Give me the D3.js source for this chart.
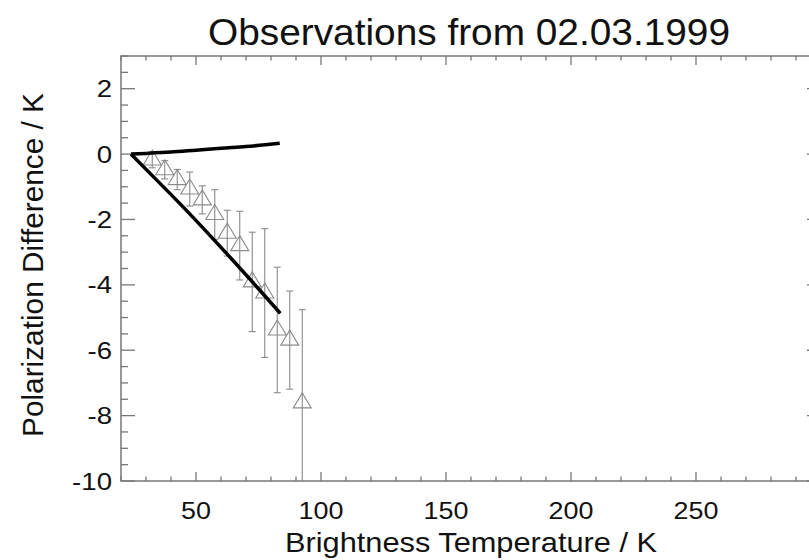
<!DOCTYPE html>
<html>
<head>
<meta charset="utf-8">
<title>Observations from 02.03.1999</title>
<script src="https://d3js.org/d3.v7.min.js"></script>
<style>
body { margin: 0; background: #fff; }
svg { display: block; font-family: "Liberation Sans", Arial, Helvetica, sans-serif; }
</style>
</head>
<body>

<script>

// observed brightness temperature (K), polarization difference (K) and error
const tbObs  = [32.5, 37.5, 42.5, 47.5, 52.5, 57.5, 62.5, 67.5, 72.5, 77.5, 82.5, 87.5, 92.5];
const pdObs  = [-0.18, -0.48, -0.78, -1.07, -1.40, -1.85, -2.42, -2.80, -3.91, -4.25, -5.38, -5.69, -7.61];
const pdErr  = [0.24, 0.28, 0.31, 0.52, 0.43, 0.76, 0.70, 1.05, 1.52, 1.97, 1.92, 1.50, 2.85];

// model curves
const modelUpperTb = [24, 30, 40, 50, 60, 70, 83.5];
const modelUpperPd = [0, 0.02, 0.06, 0.12, 0.18, 0.23, 0.33];
const modelLowerTb = [24, 35, 45, 55, 65, 75, 83.7];
const modelLowerPd = [0, -0.85, -1.63, -2.44, -3.27, -4.12, -4.87];

const xMajor = [50, 100, 150, 200, 250, 300];
const xLabels = [50, 100, 150, 200, 250];
const yMajor = [-10, -8, -6, -4, -2, 0, 2];

const W = 809, H = 560;
const plotL = 121, plotR = 821, plotT = 56, plotB = 481;

let svg = d3.select("body").append("svg").attr("width", W).attr("height", H);

let x = d3.scaleLinear().domain([20, 300]).range([plotL, plotR]);
let y = d3.scaleLinear().domain([-10, 3]).range([plotB, plotT]);

let xMinor = d3.range(20, 301, 10).filter(v => v % 50 != 0);
let yMinor = d3.range(-10, 3.01, 0.5).filter(v => v % 2 != 0);

const axisColor = "#777";
const xTickLen = 9, yTickLen = 14;

// frame
svg.append("rect")
  .attr("x", plotL).attr("y", plotT)
  .attr("width", plotR - plotL).attr("height", plotB - plotT)
  .attr("fill", "none").attr("stroke", axisColor).attr("stroke-width", 1.5);

// x ticks (bottom and top, pointing inward)
let xt = svg.append("g").attr("stroke", axisColor).attr("stroke-width", 1.3);
xMajor.concat(xMinor).forEach(v => {
  let len = xMajor.includes(v) ? xTickLen : xTickLen / 2;
  xt.append("line").attr("x1", x(v)).attr("x2", x(v)).attr("y1", plotB).attr("y2", plotB - len);
  xt.append("line").attr("x1", x(v)).attr("x2", x(v)).attr("y1", plotT).attr("y2", plotT + len);
});

// y ticks (left and right)
let yt = svg.append("g").attr("stroke", axisColor).attr("stroke-width", 1.3);
yMajor.concat(yMinor).forEach(v => {
  let len = yMajor.includes(v) ? yTickLen : yTickLen / 2;
  yt.append("line").attr("y1", y(v)).attr("y2", y(v)).attr("x1", plotL).attr("x2", plotL + len);
  yt.append("line").attr("y1", y(v)).attr("y2", y(v)).attr("x1", plotR).attr("x2", plotR - len);
});

// tick labels
svg.append("g").selectAll("text").data(xLabels).join("text")
  .attr("transform", d => "translate(" + x(d) + "," + 519 + ") scale(1.12,1)")
  .attr("text-anchor", "middle")
  .attr("font-size", 24)
  .attr("fill", "#111")
  .text(d => d);

svg.append("g").selectAll("text").data(yMajor).join("text")
  .attr("transform", d => "translate(" + 112 + "," + (y(d) + 8.5) + ") scale(1.15,1)")
  .attr("text-anchor", "end")
  .attr("font-size", 24)
  .attr("fill", "#111")
  .text(d => d);

// titles
svg.append("text")
  .attr("x", 469).attr("y", 45)
  .attr("text-anchor", "middle")
  .attr("font-size", 37)
  .attr("textLength", 522).attr("lengthAdjust", "spacingAndGlyphs")
  .attr("fill", "#111")
  .text("Observations from 02.03.1999");

svg.append("text")
  .attr("x", 471).attr("y", 552)
  .attr("text-anchor", "middle")
  .attr("font-size", 28.5)
  .attr("textLength", 372).attr("lengthAdjust", "spacingAndGlyphs")
  .attr("fill", "#111")
  .text("Brightness Temperature / K");

svg.append("text")
  .attr("transform", "translate(43,265) rotate(-90)")
  .attr("text-anchor", "middle")
  .attr("font-size", 29)
  .attr("textLength", 344).attr("lengthAdjust", "spacingAndGlyphs")
  .attr("fill", "#111")
  .text("Polarization Difference / K");

// data, clipped to plot box
svg.append("clipPath").attr("id", "plotClip")
  .append("rect").attr("x", plotL).attr("y", plotT).attr("width", plotR - plotL).attr("height", plotB - plotT);

let plot = svg.append("g").attr("clip-path", "url(#plotClip)");

let obs = tbObs.map((t, i) => ({tb: t, pd: pdObs[i], err: pdErr[i]}));

let errCol = "#8a8a8a";
let eb = plot.append("g").attr("stroke", errCol).attr("stroke-width", 1.1).attr("fill", "none");
eb.selectAll("line.bar").data(obs).join("line").attr("class", "bar")
  .attr("x1", d => x(d.tb)).attr("x2", d => x(d.tb))
  .attr("y1", d => y(d.pd + d.err)).attr("y2", d => y(d.pd - d.err));
eb.selectAll("line.capTop").data(obs).join("line").attr("class", "capTop")
  .attr("x1", d => x(d.tb) - 3.5).attr("x2", d => x(d.tb) + 3.5)
  .attr("y1", d => y(d.pd + d.err)).attr("y2", d => y(d.pd + d.err));
eb.selectAll("line.capBot").data(obs).join("line").attr("class", "capBot")
  .attr("x1", d => x(d.tb) - 3.5).attr("x2", d => x(d.tb) + 3.5)
  .attr("y1", d => y(d.pd - d.err)).attr("y2", d => y(d.pd - d.err));

eb.selectAll("path.tri").data(obs).join("path").attr("class", "tri")
  .attr("d", d => {
    let cx = x(d.tb), cy = y(d.pd);
    return "M" + cx + "," + (cy - 10) + "L" + (cx + 9) + "," + (cy + 5) + "L" + (cx - 9) + "," + (cy + 5) + "Z";
  });

let line = d3.line().x(d => x(d[0])).y(d => y(d[1])).curve(d3.curveMonotoneX);

plot.append("path")
  .datum(modelUpperTb.map((t, i) => [t, modelUpperPd[i]]))
  .attr("d", line)
  .attr("fill", "none").attr("stroke", "#000").attr("stroke-width", 3.5);

plot.append("path")
  .datum(modelLowerTb.map((t, i) => [t, modelLowerPd[i]]))
  .attr("d", line)
  .attr("fill", "none").attr("stroke", "#000").attr("stroke-width", 3.5);

</script>

</body>
</html>
